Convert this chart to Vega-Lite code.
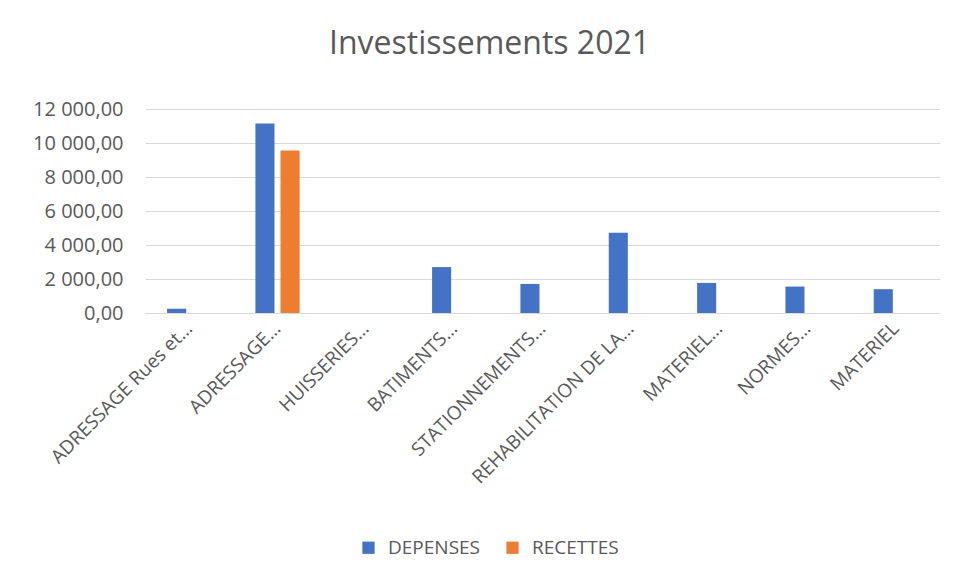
{
  "$schema": "https://vega.github.io/schema/vega-lite/v6.json",
  "autosize": {"type": "none"},
  "width": 795,
  "height": 204,
  "padding": {"left": 145, "top": 109, "right": 14, "bottom": 267},
  "background": "white",
  "config": {
    "locale": {"number": {"decimal": ",", "thousands": "\u00a0", "grouping": [3], "currency": ["", " €"]}},
    "view": {"stroke": null},
    "font": "Open Sans"
  },
  "title": {
    "text": "Investissements 2021",
    "fontSize": 32,
    "fontWeight": "normal",
    "color": "#595959",
    "font": "Open Sans",
    "anchor": "middle",
    "frame": "group",
    "dx": -53,
    "offset": 38
  },
  "data": {
    "values": [
      {"cat": "ADRESSAGE Rues et…", "serie": "DEPENSES", "val": 250},
      {"cat": "ADRESSAGE…", "serie": "DEPENSES", "val": 11150},
      {"cat": "HUISSERIES…", "serie": "DEPENSES", "val": 0},
      {"cat": "BATIMENTS…", "serie": "DEPENSES", "val": 2700},
      {"cat": "STATIONNEMENTS…", "serie": "DEPENSES", "val": 1710},
      {"cat": "REHABILITATION DE LA…", "serie": "DEPENSES", "val": 4720},
      {"cat": "MATERIEL…", "serie": "DEPENSES", "val": 1770},
      {"cat": "NORMES…", "serie": "DEPENSES", "val": 1555},
      {"cat": "MATERIEL", "serie": "DEPENSES", "val": 1400},
      {"cat": "ADRESSAGE Rues et…", "serie": "RECETTES", "val": 0},
      {"cat": "ADRESSAGE…", "serie": "RECETTES", "val": 9560},
      {"cat": "HUISSERIES…", "serie": "RECETTES", "val": 0},
      {"cat": "BATIMENTS…", "serie": "RECETTES", "val": 0},
      {"cat": "STATIONNEMENTS…", "serie": "RECETTES", "val": 0},
      {"cat": "REHABILITATION DE LA…", "serie": "RECETTES", "val": 0},
      {"cat": "MATERIEL…", "serie": "RECETTES", "val": 0},
      {"cat": "NORMES…", "serie": "RECETTES", "val": 0},
      {"cat": "MATERIEL", "serie": "RECETTES", "val": 0}
    ]
  },
  "mark": {"type": "bar"},
  "encoding": {
    "x": {
      "field": "cat",
      "type": "nominal",
      "sort": null,
      "scale": {"paddingInner": 0.5, "paddingOuter": 0.25},
      "axis": {
        "title": null,
        "labelAngle": -45,
        "labelAlign": "right",
        "labelBaseline": "middle",
        "labelFontSize": 19,
        "labelColor": "#595959",
        "labelPadding": 12,
        "labelLimit": 300,
        "ticks": false,
        "domainColor": "#d9d9d9",
        "domainWidth": 1
      }
    },
    "xOffset": {
      "field": "serie",
      "type": "nominal",
      "scale": {"paddingInner": 0.24, "paddingOuter": 0}
    },
    "y": {
      "field": "val",
      "type": "quantitative",
      "scale": {"domain": [0, 12000], "nice": false},
      "axis": {
        "title": null,
        "values": [0, 2000, 4000, 6000, 8000, 10000, 12000],
        "format": ",.2f",
        "labelFontSize": 20,
        "labelColor": "#595959",
        "labelPadding": 22,
        "ticks": false,
        "domain": false,
        "gridColor": "#d9d9d9",
        "gridWidth": 1
      }
    },
    "color": {
      "field": "serie",
      "type": "nominal",
      "scale": {"domain": ["DEPENSES", "RECETTES"], "range": ["#4472C4", "#ED7D31"]},
      "legend": {
        "title": null,
        "orient": "none",
        "direction": "horizontal",
        "legendX": 214,
        "legendY": 429,
        "symbolType": "square",
        "symbolSize": 150,
        "symbolStrokeWidth": 0,
        "labelFontSize": 19,
        "labelColor": "#595959",
        "columnPadding": 22,
        "labelOffset": 10
      }
    }
  }
}
